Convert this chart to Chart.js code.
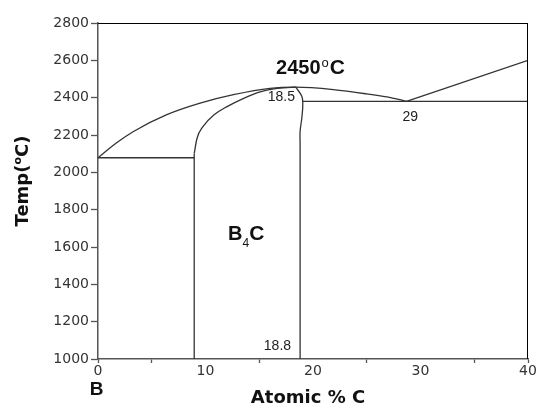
<!DOCTYPE html>
<html><head><meta charset="utf-8">
<script src="https://cdn.jsdelivr.net/npm/chart.js@4/dist/chart.umd.min.js"></script>
<style>html,body{margin:0;padding:0;background:#fff}</style>
</head><body>
<canvas id="c" width="536" height="408"></canvas>
<script>
// ---------------- data ----------------
const xMajorTicks = [0, 10, 20, 30, 40];
const xMinorTicks = [5, 15, 25, 35];
const yTicks = [1000, 1200, 1400, 1600, 1800, 2000, 2200, 2400, 2600, 2800];

// liquidus from pure B over the B4C maximum down to the eutectic at 29 % C
const liquidusX = [0, 1.7, 3.3, 6.4, 9.5, 12.6, 16.0, 18.4, 21.9, 25.0, 27.4, 28.7];
const liquidusT = [2078, 2157, 2219, 2309, 2371, 2416, 2450, 2456, 2443, 2420, 2398, 2380];
// liquidus on the carbon-rich side
const liquidusCX = [28.7, 40];
const liquidusCT = [2380, 2600];
// B4C boron-rich phase boundary: vertical part and solidus curve
const b4cLeftVX = [8.95, 8.95];
const b4cLeftVT = [1000, 2100];
const b4cLeftX = [8.95, 9.2, 9.8, 10.8, 12.0, 13.5, 15.0, 16.5, 18.0, 18.4];
const b4cLeftT = [2100, 2180, 2248, 2308, 2352, 2395, 2430, 2449, 2455, 2456];
// B4C carbon-rich phase boundary
const b4cRightX = [18.4, 18.96, 19.05, 18.96, 18.8, 18.8, 18.8];
const b4cRightT = [2456, 2407, 2362, 2291, 2219, 2148, 1000];
// eutectic lines
const eutBX = [0, 8.95];
const eutBT = [2078, 2078];
const eutCX = [19.05, 40];
const eutCT = [2380, 2380];

// text labels
const labelTexts = { peak: '2450', peakSup: 'o', peakUnit: 'C', maxComp: '18.5', eutectic: '29', solComp: '18.8',
  phaseB: 'B', phaseSub: '4', phaseC: 'C', elementB: 'B', xTitle: 'Atomic % C', yTitleA: 'Temp(', yTitleSup: 'o', yTitleB: 'C)' };

// ---------------- chart ----------------
const LINE = '#333';
function pts(xs, ts) { return xs.map((x, i) => ({ x: x, y: ts[i] })); }
function ds(xs, ts, mode) {
  const d = { data: pts(xs, ts), showLine: true, borderColor: LINE, borderWidth: 1.3,
    pointRadius: 0, fill: false, tension: 0 };
  if (mode === 'mono') { d.cubicInterpolationMode = 'monotone'; d.tension = 0.4; }
  if (mode === 'smooth') { d.tension = 0.4; }
  return d;
}

const AR = '"Liberation Sans", Arial, sans-serif';
const DV = '"DejaVu Sans", Verdana, sans-serif';

function drawParts(ctx, parts, x, y, align) {
  let w = 0;
  parts.forEach(p => { ctx.font = p[1]; w += ctx.measureText(p[0]).width + (p[3] || 0); });
  let cx = align === 'left' ? x : align === 'right' ? x - w : x - w / 2;
  ctx.textAlign = 'left';
  ctx.textBaseline = 'alphabetic';
  parts.forEach(p => { ctx.font = p[1]; ctx.fillText(p[0], cx, y + p[2]); cx += ctx.measureText(p[0]).width + (p[3] || 0); });
}

const annotations = [
  { x: 16.56, t: 2528, align: 'left', color: '#111', parts: [[labelTexts.peak, 'bold 20px ' + AR, 0, 1], [labelTexts.peakSup, '13px ' + AR, -7, 1], [labelTexts.peakUnit, 'bold 21px ' + AR, 0]] },
  { x: 18.33, t: 2380, align: 'right', color: '#222', parts: [[labelTexts.maxComp, '14px ' + AR, 0]] },
  { x: 29.05, t: 2273, align: 'center', color: '#222', parts: [[labelTexts.eutectic, '14px ' + AR, 0]] },
  { x: 17.96, t: 1050, align: 'right', color: '#222', parts: [[labelTexts.solComp, '14px ' + AR, 0]] },
  { x: 12.1, t: 1639, align: 'left', color: '#111', parts: [[labelTexts.phaseB, 'bold 20px ' + AR, 0], [labelTexts.phaseSub, '12px ' + AR, 7], [labelTexts.phaseC, 'bold 21px ' + AR, 0]] },
  { x: -0.77, t: 809, align: 'left', color: '#111', parts: [[labelTexts.elementB, 'bold 19px ' + AR, 0]] }
];

const overlay = {
  id: 'overlay',
  afterDraw(chart) {
    const ctx = chart.ctx, a = chart.chartArea, sx = chart.scales.x, sy = chart.scales.y;
    ctx.save();
    // frame top and right
    ctx.strokeStyle = '#000';
    ctx.lineWidth = 1;
    ctx.beginPath();
    ctx.moveTo(a.left, Math.round(a.top) + 0.5);
    ctx.lineTo(a.right, Math.round(a.top) + 0.5);
    ctx.moveTo(Math.round(a.right) - 0.5, a.top);
    ctx.lineTo(Math.round(a.right) - 0.5, a.bottom);
    ctx.stroke();
    // annotations
    annotations.forEach(an => {
      ctx.fillStyle = an.color;
      drawParts(ctx, an.parts, sx.getPixelForValue(an.x), sy.getPixelForValue(an.t), an.align);
    });
    // axis titles
    ctx.fillStyle = '#111';
    drawParts(ctx, [[labelTexts.xTitle, 'bold 18px ' + DV, 0]], (a.left + a.right) / 2 - 5, 403, 'center');
    ctx.translate(28, (a.top + a.bottom) / 2 - 10);
    ctx.rotate(-Math.PI / 2);
    drawParts(ctx, [[labelTexts.yTitleA, 'bold 18px ' + DV, 0], [labelTexts.yTitleSup, 'bold 11px ' + DV, -7], [labelTexts.yTitleB, 'bold 18px ' + DV, 0]], 0, 0, 'center');
    ctx.restore();
  }
};

const xTickValues = xMajorTicks.concat(xMinorTicks).sort((p, q) => p - q);

new Chart(document.getElementById('c'), {
  type: 'scatter',
  data: { datasets: [
    ds(liquidusX, liquidusT, 'mono'),
    ds(liquidusCX, liquidusCT, 'line'),
    ds(b4cLeftVX, b4cLeftVT, 'line'),
    ds(b4cLeftX, b4cLeftT, 'mono'),
    ds(b4cRightX, b4cRightT, 'smooth'),
    ds(eutBX, eutBT, 'line'),
    ds(eutCX, eutCT, 'line')
  ] },
  options: {
    responsive: false,
    animation: false,
    events: [],
    layout: { padding: { left: 0, right: 8, top: 23, bottom: 0 } },
    plugins: { legend: { display: false }, tooltip: { enabled: false } },
    scales: {
      x: {
        type: 'linear', min: 0, max: 40,
        afterBuildTicks: s => { s.ticks = xTickValues.map(v => ({ value: v })); },
        ticks: { autoSkip: false, maxRotation: 0, padding: 0, color: '#333',
          font: { family: 'DejaVu Sans', size: 14 },
          callback: v => xMajorTicks.includes(v) ? String(v) : '' },
        grid: { drawOnChartArea: false, tickLength: 4, tickWidth: 1.3,
          tickColor: c => (c.tick && [10, 20, 30].includes(c.tick.value)) ? 'rgba(0,0,0,0)' : '#555' },
        border: { color: '#555', width: 1.5 },
        afterFit: s => { s.height = 49; s.paddingLeft = 0; s.paddingRight = 0; }
      },
      y: {
        type: 'linear', min: 1000, max: 2800,
        afterBuildTicks: s => { s.ticks = yTicks.map(v => ({ value: v })); },
        ticks: { autoSkip: false, padding: 2, color: '#333',
          font: { family: 'DejaVu Sans', size: 14 },
          callback: v => String(v) },
        grid: { drawOnChartArea: false, tickLength: 7, tickWidth: 1.3, tickColor: '#555' },
        border: { color: '#555', width: 1.5 },
        afterFit: s => { s.width = 98; s.paddingTop = 0; s.paddingBottom = 0; }
      }
    }
  },
  plugins: [overlay]
});
</script>
</body></html>
